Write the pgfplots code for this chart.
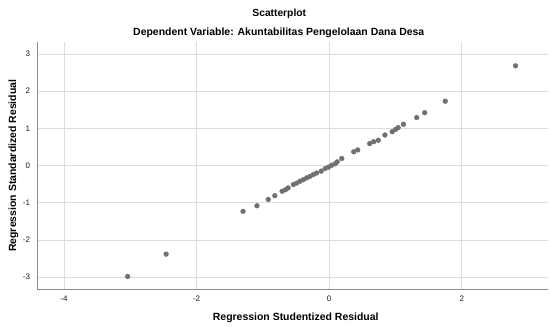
\documentclass[border=0pt]{standalone}
\usepackage{fontspec}
\setmainfont{Liberation Sans}
\usepackage{pgfplots}
\pgfplotsset{compat=1.18}
\definecolor{dotc}{RGB}{112,112,112}
\definecolor{gridc}{RGB}{220,220,220}
\definecolor{axc}{RGB}{140,140,140}
\begin{document}
\begin{tikzpicture}
\useasboundingbox (-37.5bp,-37.5bp) rectangle (512.5bp,289.5bp);
\begin{axis}[
 scale only axis, width=510.5bp, height=247.5bp,
 xmin=-4.40, xmax=3.30, ymin=-3.33, ymax=3.32,
 xtick={-4,-2,0,2}, ytick={-3,-2,-1,0,1,2,3},
 grid=major, major grid style={gridc, line width=0.8pt},
 axis x line*=bottom, axis y line*=left,
 axis line style={axc, line width=0.8pt, -},
 major tick length=0pt,
 tick label style={font=\fontsize{8}{9}\selectfont, text=black!90},
 xticklabel style={yshift=-2.5bp},
 yticklabel style={xshift=-4bp},
 /pgf/number format/assume math mode=true,
 xlabel={Regression Studentized Residual},
 ylabel={Regression Standardized Residual},
 label style={font=\fontsize{10.5}{12}\selectfont\bfseries},
 xlabel style={at={(axis description cs:0.5,0)}, anchor=center, yshift=-28.5bp, xshift=3bp},
 ylabel style={at={(axis description cs:0,0.5)}, anchor=center, yshift=24bp},
 clip=false,
]
\addplot[only marks, mark=*, mark size=2.4bp, mark options={fill=dotc, draw=dotc}] coordinates {
(-3.04,-2.98) (-2.46,-2.38) (-1.30,-1.23) (-1.09,-1.08) (-0.92,-0.91)
(-0.82,-0.81) (-0.71,-0.69) (-0.66,-0.65) (-0.62,-0.60) (-0.54,-0.51)
(-0.49,-0.47) (-0.44,-0.42) (-0.39,-0.38) (-0.34,-0.33) (-0.29,-0.29)
(-0.24,-0.24) (-0.19,-0.20) (-0.12,-0.15) (-0.06,-0.08) (-0.01,-0.04)
(0.04,0.01) (0.09,0.05) (0.12,0.10) (0.19,0.19) (0.37,0.37) (0.43,0.42)
(0.61,0.59) (0.67,0.64) (0.74,0.68) (0.84,0.82) (0.95,0.91) (1.00,0.97)
(1.04,1.02) (1.12,1.11) (1.32,1.29) (1.44,1.42) (1.75,1.73) (2.81,2.68)
};
\node[font=\fontsize{10.3}{12}\selectfont\bfseries] at (axis description cs:0.5,1) [xshift=-13.5bp, yshift=28bp] {Scatterplot};
\node[font=\fontsize{10.5}{12}\selectfont\bfseries] at (axis description cs:0.5,1) [xshift=-14bp, yshift=9bp] {Dependent Variable: Akuntabilitas Pengelolaan Dana Desa};
\end{axis}
\end{tikzpicture}
\end{document}
